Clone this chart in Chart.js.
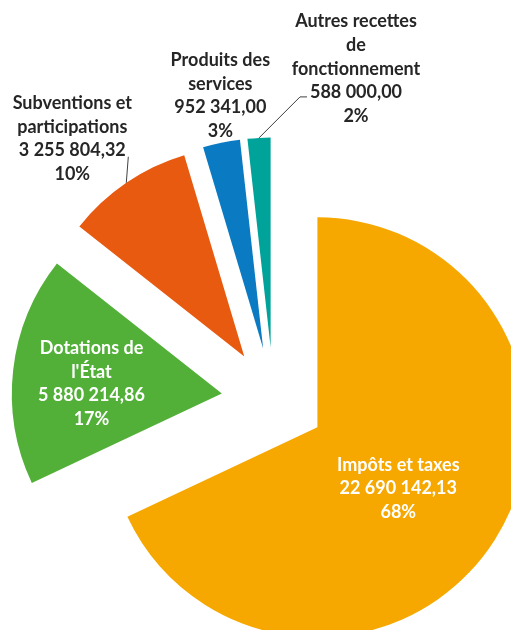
<!DOCTYPE html>
<html>
<head>
<meta charset="utf-8">
<script src="https://cdn.jsdelivr.net/npm/chart.js@4"></script>
<style>
  body { margin: 0; background: #fff; overflow: hidden; }
  canvas { display: block; }
</style>
</head>
<body>
<canvas id="myChart" width="511" height="630"></canvas>
<script>
// données
const categories = [
  ['Impôts et taxes'],
  ['Dotations de', "l'État"],
  ['Subventions et', 'participations'],
  ['Produits des', 'services'],
  ['Autres recettes', 'de', 'fonctionnement']
];
const amounts = [22690142.13, 5880214.86, 3255804.32, 952341.00, 588000.00];
const percentLabels = ['68%', '17%', '10%', '3%', '2%'];
const colors = ['#F6A800', '#52B038', '#E85A0F', '#0A7BC2', '#00A399'];

const pieRadius = 210;
const explode = 52;

// placement des étiquettes (style, pas des données)
const labelLayout = [
  { inside: true, f: 0.49, dx: -6, dy: 6 },
  { inside: true, f: 0.62, dx: -1, dy: 5 },
  { dx: -54, dy: -44, leader: [[2, -26]] },
  { dx: -1, dy: -47 },
  { dx: 97, dy: -69, leader: [[41, -41], [48, -41]] }
];

function formatFr(v) {
  const parts = v.toFixed(2).split('.');
  return parts[0].replace(/\B(?=(\d{3})+(?!\d))/g, ' ') + ',' + parts[1];
}

function pieCenter(chart) {
  const a = chart.chartArea;
  return { x: (a.left + a.right) / 2, y: (a.top + a.bottom) / 2 };
}

// parts éclatées : on déplace le centre de chaque part le long de sa bissectrice
const explodeSlices = {
  id: 'explodeSlices',
  beforeDatasetsDraw(chart) {
    const c = pieCenter(chart);
    chart.getDatasetMeta(0).data.forEach(arc => {
      const mid = (arc.startAngle + arc.endAngle) / 2;
      arc.x = c.x + Math.cos(mid) * explode;
      arc.y = c.y + Math.sin(mid) * explode;
    });
  }
};

const labelPlugin = {
  id: 'sliceLabels',
  afterDraw(chart) {
    const ctx = chart.ctx;
    const c = pieCenter(chart);
    const arcs = chart.getDatasetMeta(0).data;
    const lh = 23.7;
    ctx.save();
    ctx.font = 'bold 18px Lato';
    ctx.textAlign = 'center';
    ctx.textBaseline = 'middle';
    arcs.forEach((arc, i) => {
      const mid = (arc.startAngle + arc.endAngle) / 2;
      const ux = Math.cos(mid), uy = Math.sin(mid);
      const ax = c.x + ux * explode, ay = c.y + uy * explode; // sommet de la part
      const r = arc.outerRadius;
      const lay = labelLayout[i];
      const lines = categories[i].concat([formatFr(amounts[i]), percentLabels[i]]);
      let cx, cy;
      if (lay.inside) {
        cx = ax + ux * r * lay.f + lay.dx;
        cy = ay + uy * r * lay.f + lay.dy;
        ctx.fillStyle = '#ffffff';
      } else {
        const ox = ax + ux * r, oy = ay + uy * r;
        cx = ox + lay.dx;
        cy = oy + lay.dy;
        if (lay.leader) {
          ctx.strokeStyle = '#404040';
          ctx.lineWidth = 1;
          ctx.beginPath();
          ctx.moveTo(ox, oy);
          lay.leader.forEach(pt => ctx.lineTo(ox + pt[0], oy + pt[1]));
          ctx.stroke();
        }
        ctx.fillStyle = '#262626';
      }
      lines.forEach((t, k) => {
        ctx.fillText(t, cx, cy + (k - (lines.length - 1) / 2) * lh);
      });
    });
    ctx.restore();
  }
};

new Chart(document.getElementById('myChart'), {
  type: 'pie',
  data: {
    labels: categories,
    datasets: [{
      data: amounts,
      backgroundColor: colors,
      borderWidth: 0,
      clip: false
    }]
  },
  options: {
    responsive: false,
    animation: false,
    radius: pieRadius,
    layout: { padding: { left: 36, right: 0, top: 169, bottom: 0 } },
    plugins: {
      legend: { display: false },
      tooltip: { enabled: false }
    }
  },
  plugins: [explodeSlices, labelPlugin]
});
</script>
</body>
</html>
